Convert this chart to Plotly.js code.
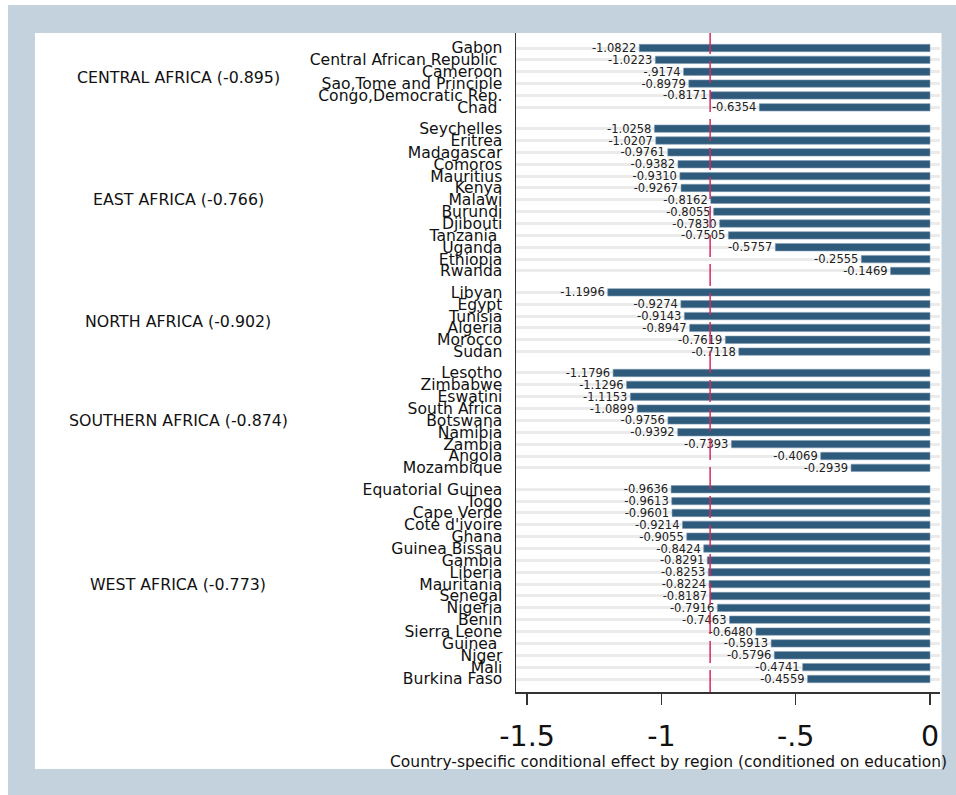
<!DOCTYPE html>
<html>
<head>
<meta charset="utf-8">
<script src="https://cdn.plot.ly/plotly-3.0.1.min.js"></script>
<style>html,body{margin:0;padding:0;background:#fff;}#chart{width:956px;height:795px;}</style>
</head>
<body>
<div id="chart"></div>
<script>
// ---------------- data ----------------
const regionNames = ['CENTRAL AFRICA', 'EAST AFRICA', 'NORTH AFRICA', 'SOUTHERN AFRICA', 'WEST AFRICA'];
const regionMeans = ['-0.895', '-0.766', '-0.902', '-0.874', '-0.773'];

const centralCountries = ['Gabon', 'Central African Republic\u00a0', 'Cameroon', 'Sao,Tome and Principle', 'Congo,Democratic Rep.', 'Chad\u00a0'];
const centralValues = [-1.0822, -1.0223, -0.9174, -0.8979, -0.8171, -0.6354];
const centralLabels = ['-1.0822', '-1.0223', '-.9174', '-0.8979', '-0.8171', '-0.6354'];

const eastCountries = ['Seychelles', 'Eritrea', 'Madagascar', 'Comoros', 'Mauritius', 'Kenya', 'Malawi', 'Burundi', 'Djibouti', 'Tanzania\u00a0', 'Uganda', 'Ethiopia', 'Rwanda'];
const eastValues = [-1.0258, -1.0207, -0.9761, -0.9382, -0.9310, -0.9267, -0.8162, -0.8055, -0.7830, -0.7505, -0.5757, -0.2555, -0.1469];
const eastLabels = ['-1.0258', '-1.0207', '-0.9761', '-0.9382', '-0.9310', '-0.9267', '-0.8162', '-0.8055', '-0.7830', '-0.7505', '-0.5757', '-0.2555', '-0.1469'];

const northCountries = ['Libyan', 'Egypt', 'Tunisia', 'Algeria', 'Morocco', 'Sudan'];
const northValues = [-1.1996, -0.9274, -0.9143, -0.8947, -0.7619, -0.7118];
const northLabels = ['-1.1996', '-0.9274', '-0.9143', '-0.8947', '-0.7619', '-0.7118'];

const southernCountries = ['Lesotho', 'Zimbabwe', 'Eswatini', 'South Africa', 'Botswana', 'Namibia', 'Zambia', 'Angola', 'Mozambique'];
const southernValues = [-1.1796, -1.1296, -1.1153, -1.0899, -0.9756, -0.9392, -0.7393, -0.4069, -0.2939];
const southernLabels = ['-1.1796', '-1.1296', '-1.1153', '-1.0899', '-0.9756', '-0.9392', '-0.7393', '-0.4069', '-0.2939'];

const westCountries = ['Equatorial Guinea', 'Togo', 'Cape Verde', "Cote d'ivoire", 'Ghana', 'Guinea Bissau', 'Gambia', 'Liberia', 'Mauritania', 'Senegal', 'Nigeria', 'Benin', 'Sierra Leone', 'Guinea\u00a0', 'Niger', 'Mali', 'Burkina Faso'];
const westValues = [-0.9636, -0.9613, -0.9601, -0.9214, -0.9055, -0.8424, -0.8291, -0.8253, -0.8224, -0.8187, -0.7916, -0.7463, -0.6480, -0.5913, -0.5796, -0.4741, -0.4559];
const westLabels = ['-0.9636', '-0.9613', '-0.9601', '-0.9214', '-0.9055', '-0.8424', '-0.8291', '-0.8253', '-0.8224', '-0.8187', '-0.7916', '-0.7463', '-0.6480', '-0.5913', '-0.5796', '-0.4741', '-0.4559'];

const xTickVals = [-1.5, -1, -0.5, 0];
const xTickText = ['-1.5', '-1', '-.5', '0'];
const xTitle = 'Country-specific conditional effect by region (conditioned on education)';

// ---------------- build ----------------
const groups = [
  [centralCountries, centralValues, centralLabels],
  [eastCountries, eastValues, eastLabels],
  [northCountries, northValues, northLabels],
  [southernCountries, southernValues, southernLabels],
  [westCountries, westValues, westLabels]
];
const GAP = 0.8;
let pos = 0;
const ys = [], xs = [], texts = [], names = [], groupCenters = [];
groups.forEach(([c, v, l]) => {
  const start = pos;
  c.forEach((name, i) => {
    ys.push(pos); xs.push(v[i]); texts.push(l[i]); names.push(name);
    pos += 1;
  });
  groupCenters.push((start + pos - 1) / 2);
  pos += GAP;
});
const lastPos = ys[ys.length - 1];
const overallMean = xs.reduce((a, b) => a + b, 0) / xs.length;

const FONT = 'DejaVu Sans';
// pixel geometry
const W = 956, H = 795;
const PL = 516, PR = 940, PT = 33, PB = 692;
const px2x = p => (p - PL) / (PR - PL);
const px2y = p => (PB - p) / (PB - PT);

const trace = {
  type: 'bar', orientation: 'h',
  x: xs, y: ys, width: 0.62,
  text: texts, textposition: 'outside', constraintext: 'none', cliponaxis: false,
  textfont: {family: FONT, size: 11.5, color: '#222'},
  marker: {color: '#2e5a7b', line: {color: '#7f9bb2', width: 0.6}},
  hoverinfo: 'skip'
};

const annotations = regionNames.map((r, i) => ({
  xref: 'paper', yref: 'y', x: px2x(178), y: groupCenters[i],
  text: r + ' (' + regionMeans[i] + ')', showarrow: false,
  xanchor: 'center', yanchor: 'middle',
  font: {family: FONT, size: 15.8, color: '#111'}
}));
annotations.push({
  xref: 'paper', yref: 'paper', x: px2x(949), y: px2y(762),
  text: xTitle, showarrow: false, xanchor: 'right', yanchor: 'middle',
  font: {family: FONT, size: 15.5, color: '#111'}
});

const shapes = [
  {type: 'rect', xref: 'paper', yref: 'paper', layer: 'below',
   x0: px2x(8), x1: px2x(960), y0: px2y(800), y1: px2y(5),
   fillcolor: '#c4d2de', line: {width: 0}},
  {type: 'rect', xref: 'paper', yref: 'paper', layer: 'below',
   x0: px2x(35), x1: px2x(941.5), y0: px2y(769), y1: px2y(33),
   fillcolor: '#ffffff', line: {width: 0}},
  {type: 'line', xref: 'x', yref: 'paper', layer: 'above',
   x0: overallMean, x1: overallMean, y0: 0, y1: 1,
   line: {color: '#d62a5c', width: 1.5, dash: '22px,7px'}}
];

const layout = {
  width: W, height: H,
  margin: {l: PL, r: W - PR, t: PT, b: H - PB, pad: 0},
  paper_bgcolor: '#ffffff', plot_bgcolor: '#ffffff',
  showlegend: false,
  font: {family: FONT, color: '#111'},
  xaxis: {
    range: [-1.541, 0.0372], tickvals: xTickVals, ticktext: xTickText,
    ticks: 'outside', ticklen: 11, tickwidth: 1.5, tickcolor: '#333',
    ticklabelstandoff: 7,
    tickfont: {family: FONT, size: 28.5, color: '#111'},
    showline: true, linecolor: '#333', linewidth: 1.5,
    showgrid: false, zeroline: false, fixedrange: true
  },
  yaxis: {
    range: [lastPos + 1.096, -1.265], tickvals: ys, ticktext: names,
    ticks: '', ticklabelstandoff: 9,
    tickfont: {family: FONT, size: 15.6, color: '#111'},
    showline: true, linecolor: '#333', linewidth: 1.5,
    showgrid: true, gridcolor: '#ebebeb', gridwidth: 3,
    zeroline: false, fixedrange: true
  },
  annotations: annotations,
  shapes: shapes
};

Plotly.newPlot('chart', [trace], layout, {displayModeBar: false, staticPlot: true});
</script>
</body>
</html>
